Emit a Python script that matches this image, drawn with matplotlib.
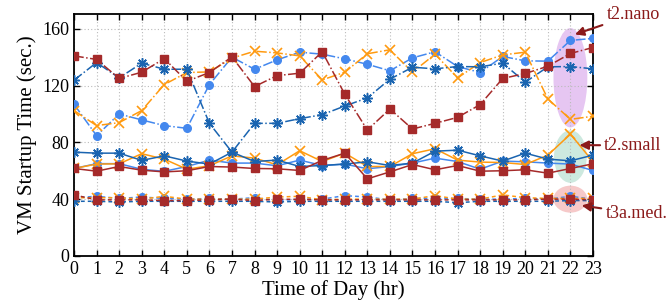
import matplotlib
matplotlib.use("Agg")
import matplotlib.pyplot as plt
from matplotlib.patches import Ellipse
import numpy as np

hours = list(range(24))

# t2.nano (dash-dot)
nano_circle = [106.8, 84.7, 100.0, 95.8, 91.8, 89.9, 120.7, 140.0, 131.5, 138.1, 143.5, 142.1,
               138.8, 135.0, 130.4, 139.5, 143.8, 133.4, 129.2, 140.5, 137.4, 137.2, 151.8, 153.2]
nano_cross = [102.4, 91.8, 93.9, 102.4, 120.7, 129.2, 129.6, 139.3, 144.2, 143.0, 140.9, 124.0,
              129.4, 142.4, 145.2, 129.4, 142.1, 125.4, 136.2, 141.6, 143.5, 110.6, 96.2, 98.4]
nano_star = [123.8, 136.2, 125.4, 135.8, 131.5, 131.5, 93.4, 73.1, 93.4, 93.4, 96.7, 99.5,
             105.6, 111.3, 124.5, 132.9, 131.8, 133.4, 133.2, 135.8, 122.4, 133.2, 133.4, 131.8]
nano_square = [140.9, 138.4, 125.0, 129.4, 139.0, 123.0, 129.2, 140.2, 119.3, 127.0, 128.7, 143.8,
               113.9, 88.7, 103.5, 89.4, 93.4, 97.6, 106.6, 125.0, 128.5, 133.6, 142.6, 146.8]

# t2.small (solid)
small_circle = [61.6, 65.0, 65.0, 61.0, 59.6, 63.0, 67.5, 65.4, 65.4, 63.5, 67.5, 63.7,
                64.7, 61.4, 63.0, 65.4, 68.9, 66.5, 61.1, 66.8, 66.3, 65.4, 64.7, 60.2]
small_cross = [61.6, 64.7, 64.9, 72.0, 68.2, 61.1, 63.5, 70.5, 68.9, 64.2, 74.1, 66.5,
               72.4, 63.0, 63.0, 72.0, 75.5, 67.5, 66.1, 65.8, 64.4, 71.0, 85.8, 66.5]
small_star = [73.1, 72.4, 72.4, 67.3, 70.5, 66.8, 64.7, 73.1, 66.5, 67.5, 63.0, 63.7,
              64.7, 66.3, 63.7, 65.4, 73.8, 74.5, 70.5, 66.8, 72.4, 68.2, 67.0, 71.0]
small_square = [61.6, 59.7, 63.0, 60.4, 59.2, 60.0, 63.0, 62.6, 61.6, 61.4, 60.2, 67.3,
                72.4, 54.3, 59.2, 64.4, 60.7, 63.7, 59.7, 60.0, 60.7, 58.3, 61.6, 64.9]

# t3a.medium (dashed)
med_circle = [41.0, 42.0, 40.5, 41.5, 40.5, 40.0, 40.5, 40.0, 41.0, 39.0, 40.0, 40.0,
              42.5, 41.5, 39.5, 40.5, 40.5, 40.5, 40.0, 40.0, 40.5, 40.0, 42.0, 40.0]
med_cross = [41.0, 41.0, 41.0, 40.0, 42.0, 40.0, 40.0, 40.0, 40.0, 41.5, 42.0, 39.5,
             40.0, 40.0, 40.0, 40.0, 42.5, 40.0, 40.0, 43.0, 41.0, 40.5, 40.5, 40.5]
med_star = [38.5, 38.5, 38.0, 38.5, 38.5, 38.5, 38.5, 38.5, 38.5, 38.0, 38.5, 38.5,
            38.5, 38.5, 38.5, 38.5, 38.5, 37.5, 38.5, 38.5, 38.5, 38.5, 39.0, 39.0]
med_square = [43.0, 39.5, 39.5, 39.5, 39.0, 39.0, 39.5, 40.0, 39.0, 40.0, 39.8, 39.5,
              39.5, 39.5, 39.5, 39.5, 39.5, 39.5, 39.5, 39.5, 39.5, 40.0, 40.0, 39.5]

C_CIRCLE = "#4488ee"
C_CROSS = "#ff9a10"
C_STAR = "#1a64b0"
C_SQUARE = "#a52a2a"
C_TEXT = "#8b1a1a"

plt.rcParams["font.family"] = ["Liberation Serif", "DejaVu Serif"]

fig = plt.figure(figsize=(6.67, 3.08), dpi=100)
ax = fig.add_axes([0.111, 0.169, 0.778, 0.786])

# highlight ellipses
ax.add_patch(Ellipse((22, 125.5), 1.5, 70, color="#e6c6f2", zorder=1, lw=0))
ax.add_patch(Ellipse((22, 70.0), 1.45, 37, color="#cde9df", zorder=1, lw=0))
ax.add_patch(Ellipse((22, 40.0), 1.5, 19, color="#f6c9c9", zorder=1, lw=0))

groups = [
    ("-.", nano_circle, nano_cross, nano_star, nano_square),
    ("-", small_circle, small_cross, small_star, small_square),
    ((0, (2.5, 2)), med_circle, med_cross, med_star, med_square),
]
for ls, circ, cross, star, sq in groups:
    ax.plot(hours, circ, ls=ls, color=C_CIRCLE, marker="o", ms=5.5, lw=1.1, zorder=3)
    ax.plot(hours, cross, ls=ls, color=C_CROSS, marker="x", ms=6.5, mew=1.2, lw=1.1, zorder=3)
    ax.plot(hours, star, ls=ls, color=C_STAR, marker=(8, 2, 0), ms=7.5, mew=1.1, lw=1.1, zorder=3)
    ax.plot(hours, sq, ls=ls, color=C_SQUARE, marker="s", ms=5.5, lw=1.1, zorder=3)

ax.set_xlim(0, 23)
ax.set_ylim(0, 170.5)
ax.set_xticks(hours)
ax.set_yticks([0, 40, 80, 120, 160])
ax.tick_params(direction="in", top=True, right=True, labelsize=13, length=4, width=1)
ax.grid(True, ls=(0, (1, 2)), color="#bbbbbb", lw=0.8, zorder=0)
for s in ax.spines.values():
    s.set_linewidth(1.3)

ax.set_xlabel("Time of Day (hr)", fontsize=15, labelpad=2)
ax.set_ylabel("VM Startup Time (sec.)", fontsize=15, labelpad=4)

arrow = dict(arrowstyle="-|>", color=C_TEXT, lw=1.5, mutation_scale=13, shrinkA=1, shrinkB=0)
ax.annotate("t2.nano", xy=(22.2, 156), xytext=(23.6, 170), fontsize=13, color=C_TEXT,
            ha="left", va="center", arrowprops=arrow, annotation_clip=False)
ax.annotate("t2.small", xy=(22.4, 78), xytext=(23.5, 78), fontsize=13, color=C_TEXT,
            ha="left", va="center", arrowprops=arrow, annotation_clip=False)
ax.annotate("t3a.med.", xy=(22.5, 35.5), xytext=(23.55, 30), fontsize=13, color=C_TEXT,
            ha="left", va="center", arrowprops=arrow, annotation_clip=False)

fig.savefig("out.png", dpi=100)
